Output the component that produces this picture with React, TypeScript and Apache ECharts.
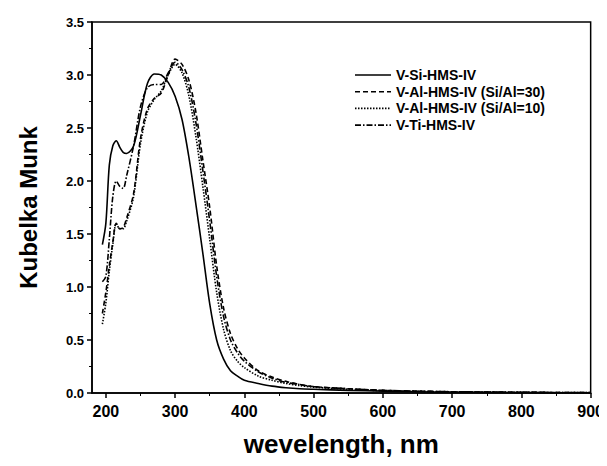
import React, { useEffect, useRef } from "react";
import * as echarts from "echarts";

const wavelengths = [195, 200, 205, 210, 215, 220, 225, 230, 240, 250, 260, 270, 280, 290, 300, 310, 320, 330, 340, 350, 360, 370, 380, 390, 400, 420, 440, 460, 480, 500, 550, 600, 650, 700, 750, 800, 850, 900];

const vSi = [1.40, 1.6, 2.15, 2.33, 2.38, 2.32, 2.27, 2.26, 2.33, 2.62, 2.92, 3.01, 3.0, 2.93, 2.8, 2.58, 2.22, 1.78, 1.32, 0.84, 0.5, 0.32, 0.21, 0.16, 0.12, 0.09, 0.065, 0.05, 0.04, 0.035, 0.025, 0.018, 0.012, 0.008, 0.006, 0.004, 0.003, 0.002];
const vAl30 = [0.75, 0.95, 1.2, 1.42, 1.6, 1.55, 1.56, 1.65, 1.88, 2.4, 2.68, 2.78, 2.83, 3.0, 3.15, 3.1, 2.95, 2.65, 2.2, 1.75, 1.2, 0.8, 0.56, 0.42, 0.33, 0.21, 0.15, 0.11, 0.08, 0.06, 0.04, 0.025, 0.018, 0.012, 0.009, 0.007, 0.005, 0.004];
const vAl10 = [0.65, 0.85, 1.15, 1.4, 1.6, 1.55, 1.55, 1.62, 1.85, 2.35, 2.65, 2.77, 2.85, 3.0, 3.1, 3.02, 2.8, 2.42, 1.95, 1.45, 0.95, 0.6, 0.4, 0.3, 0.24, 0.16, 0.12, 0.09, 0.07, 0.055, 0.035, 0.022, 0.015, 0.01, 0.008, 0.006, 0.004, 0.003];
const vTi = [1.05, 1.1, 1.45, 1.85, 2.0, 1.95, 1.93, 2.05, 2.33, 2.7, 2.88, 2.91, 2.91, 3.02, 3.12, 3.05, 2.88, 2.55, 2.1, 1.62, 1.1, 0.72, 0.5, 0.38, 0.3, 0.2, 0.14, 0.1, 0.08, 0.06, 0.04, 0.025, 0.017, 0.012, 0.009, 0.007, 0.005, 0.004];

const seriesNames = ["V-Si-HMS-IV", "V-Al-HMS-IV (Si/Al=30)", "V-Al-HMS-IV (Si/Al=10)", "V-Ti-HMS-IV"];
const xMajorTicks = [200, 300, 400, 500, 600, 700, 800, 900];
const xMinorTicks = [250, 350, 450, 550, 650, 750, 850];

const FONT = "'Liberation Sans', Arial, sans-serif";

export default function App() {
  const ref = useRef<HTMLDivElement>(null);
  useEffect(() => {
    if (!ref.current) return;
    const chart = echarts.init(ref.current, null, { renderer: "svg" });
    const mk = (vals: number[]) => wavelengths.map((w, i) => [w, vals[i]]);
    const lineTypes: any[] = ["solid", [5, 3], [1.5, 1.5], [6, 2, 1.5, 2]];
    const allVals = [vSi, vAl30, vAl10, vTi];

    const legendX = 347, legendY = 67, rowH = 16.7, sampleW = 36;
    const legendGraphics: any[] = [];
    seriesNames.forEach((name, i) => {
      const y = legendY + i * rowH;
      legendGraphics.push({
        type: "line",
        shape: { x1: legendX, y1: y, x2: legendX + sampleW, y2: y },
        style: { stroke: "#000", lineWidth: 1.6, lineDash: lineTypes[i] === "solid" ? null : lineTypes[i] },
        silent: true,
      });
      legendGraphics.push({
        type: "text", x: legendX + sampleW + 5, y,
        style: { text: name, fill: "#000", font: `bold 14px ${FONT}`, textVerticalAlign: "middle", verticalAlign: "middle" },
        silent: true,
      });
    });

    chart.setOption({
      animation: false,
      backgroundColor: "#fff",
      grid: {
        left: 84, right: 15, top: 14, bottom: 73,
        show: true, borderColor: "#000", borderWidth: 1.5, containLabel: false,
      },
      graphic: legendGraphics,
      xAxis: [
        {
          type: "value", min: 180, max: 900,
          name: "wevelength, nm", nameLocation: "middle", nameGap: 38,
          nameTextStyle: { fontFamily: FONT, fontWeight: "bold", fontSize: 26, color: "#000" },
          axisLine: { lineStyle: { color: "#000", width: 1.5 } },
          axisTick: { show: true, inside: false, length: 5, customValues: xMajorTicks, lineStyle: { color: "#000", width: 1.5 } },
          axisLabel: { customValues: xMajorTicks, margin: 10, fontFamily: FONT, fontWeight: "bold", fontSize: 16, color: "#000" },
          splitLine: { show: false },
        },
        {
          type: "value", min: 180, max: 900, position: "bottom",
          axisLine: { show: false },
          axisTick: { show: true, inside: false, length: 3, customValues: xMinorTicks, lineStyle: { color: "#000", width: 1 } },
          axisLabel: { show: false },
          splitLine: { show: false },
        },
      ],
      yAxis: {
        type: "value", min: 0, max: 3.5, interval: 0.5,
        name: "Kubelka Munk", nameLocation: "middle", nameGap: 52,
        nameTextStyle: { fontFamily: FONT, fontWeight: "bold", fontSize: 24, color: "#000" },
        axisLine: { show: true, lineStyle: { color: "#000", width: 1.5 } },
        axisTick: { show: true, inside: false, length: 5, lineStyle: { color: "#000", width: 1.5 } },
        minorTick: { show: true, splitNumber: 2, length: 3, lineStyle: { color: "#000", width: 1 } },
        axisLabel: { margin: 8, fontFamily: FONT, fontWeight: "bold", fontSize: 13, color: "#000", formatter: (v: number) => v.toFixed(1) },
        splitLine: { show: false },
      },
      series: seriesNames.map((name, i) => ({
        name, type: "line", xAxisIndex: 0, data: mk(allVals[i]),
        symbol: "none", smooth: 0.3,
        lineStyle: { color: "#000", width: 1.6, type: lineTypes[i] },
        itemStyle: { color: "#000" },
      })),
    });
    return () => chart.dispose();
  }, []);
  return <div ref={ref} style={{ width: 599, height: 458 }} />;
}
